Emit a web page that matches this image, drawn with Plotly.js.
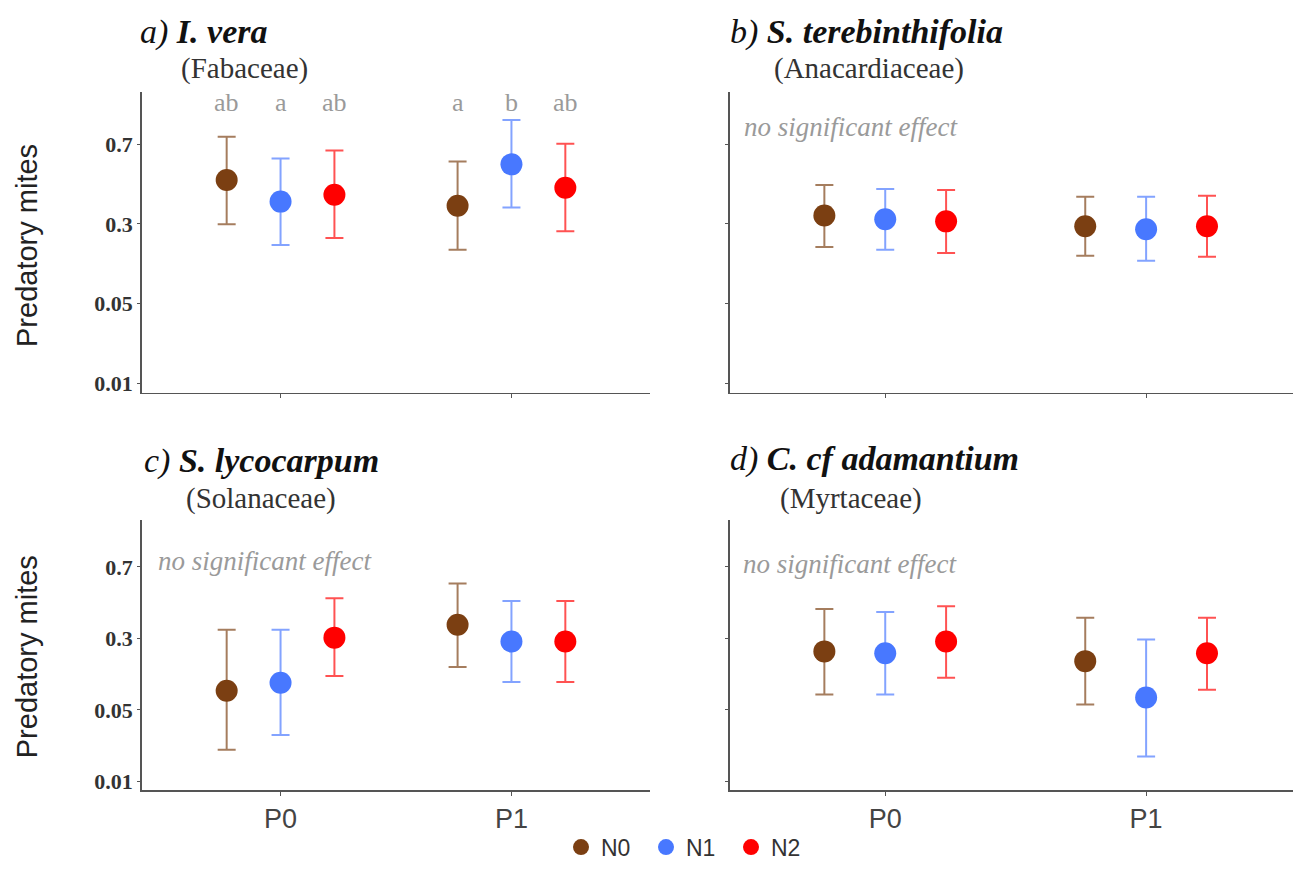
<!DOCTYPE html>
<html><head><meta charset="utf-8">
<script src="https://cdn.plot.ly/plotly-3.0.1.min.js"></script>
<style>html,body{margin:0;padding:0;background:#fff}#chart{width:1293px;height:869px}</style>
</head><body><div id="chart"></div>
<script>
// ---------- data ----------
const groups = ['P0', 'P1'];
const levels = ['N0', 'N1', 'N2'];
const yTickValues = [0.01, 0.05, 0.3, 0.7];
const yTickLabels = ['0.01', '0.05', '0.3', '0.7'];

// rows: N0, N1, N2 ; columns: P0, P1
const iveraMean  = [[0.478, 0.364], [0.380, 0.565], [0.409, 0.440]];
const iveraLower = [[0.297, 0.167], [0.186, 0.357], [0.218, 0.254]];
const iveraUpper = [[0.758, 0.583], [0.602, 0.906], [0.655, 0.704]];
const iveraLetters = [['ab', 'a'], ['a', 'b'], ['ab', 'ab']];

const terebMean  = [[0.328, 0.284], [0.315, 0.266], [0.308, 0.284]];
const terebLower = [[0.178, 0.146], [0.167, 0.131], [0.156, 0.143]];
const terebUpper = [[0.454, 0.400], [0.435, 0.400], [0.430, 0.404]];

const lycoMean  = [[0.0811, 0.353], [0.0988, 0.278], [0.303, 0.278]];
const lycoLower = [[0.0204, 0.1465], [0.0285, 0.101], [0.117, 0.101]];
const lycoUpper = [[0.333, 0.576], [0.333, 0.467], [0.483, 0.467]];

const adamMean  = [[0.217, 0.170], [0.207, 0.0682], [0.278, 0.207]];
const adamLower = [[0.0735, 0.0574], [0.0735, 0.0175], [0.112, 0.0831]];
const adamUpper = [[0.425, 0.383], [0.410, 0.292], [0.440, 0.383]];

const panelLetters = ['a)', 'b)', 'c)', 'd)'];
const speciesNames = ['I. vera', 'S. terebinthifolia', 'S. lycocarpum', 'C. cf adamantium'];
const familyNames = ['(Fabaceae)', '(Anacardiaceae)', '(Solanaceae)', '(Myrtaceae)'];
const noteText = 'no significant effect';
const yTitle = 'Predatory mites';

// ---------- styling ----------
const markerColors = ['#7b3f12', '#4878ff', '#ff0000'];
const barColors = ['rgba(123,63,18,0.68)', 'rgba(72,120,255,0.68)', 'rgba(255,0,0,0.68)'];
const dodge = [-0.7 / 3, 0, 0.7 / 3];
const SERIF = 'Liberation Serif, Times New Roman, serif';
const SANS = 'Liberation Sans, Arial, sans-serif';
const W = 1293, H = 869;

// the y axis places its labelled values at evenly spaced positions;
// map a value onto that scale (log interpolation between labelled values)
function pos(v) {
  const t = yTickValues;
  const k = v < t[1] ? 0 : (v < t[2] ? 1 : 2);
  return k + Math.log(v / t[k]) / Math.log(t[k + 1] / t[k]);
}

const panels = [
  {mean: iveraMean, lo: iveraLower, hi: iveraUpper, xa: 'x', ya: 'y'},
  {mean: terebMean, lo: terebLower, hi: terebUpper, xa: 'x2', ya: 'y2'},
  {mean: lycoMean, lo: lycoLower, hi: lycoUpper, xa: 'x3', ya: 'y3'},
  {mean: adamMean, lo: adamLower, hi: adamUpper, xa: 'x4', ya: 'y4'}
];

const traces = [];
panels.forEach((p, pi) => {
  levels.forEach((lev, i) => {
    const yc = p.mean[i].map(pos);
    traces.push({
      type: 'scatter', mode: 'markers', name: lev,
      legendgroup: lev, showlegend: pi === 0,
      xaxis: p.xa, yaxis: p.ya,
      x: groups.map((g, j) => j + 1 + dodge[i]),
      y: yc,
      marker: {color: markerColors[i], size: 22, line: {width: 0}},
      error_y: {
        type: 'data', symmetric: false,
        array: p.hi[i].map((v, j) => pos(v) - yc[j]),
        arrayminus: p.lo[i].map((v, j) => yc[j] - pos(v)),
        color: barColors[i], thickness: 2, width: 9
      },
      hoverinfo: 'skip'
    });
  });
});

// ---------- layout ----------
const px = v => v / W, py = v => 1 - v / H;
const colL = [px(142), px(650)], colR = [px(730), 1];
const rowT = [py(399), py(94)], rowB = [py(803), py(529)];
const yRange = [-0.12, 3.65];

function xAxis(domain, range, labels, anchor) {
  return {
    domain: domain, range: range, anchor: anchor,
    tickvals: [1, 2], ticktext: groups, showticklabels: labels,
    ticks: 'outside', ticklen: 4, tickwidth: 1, tickcolor: '#555',
    showline: true, linecolor: '#555', linewidth: 1.8,
    showgrid: false, zeroline: false, fixedrange: true,
    tickfont: {family: SANS, size: 27, color: '#444'}
  };
}
function yAxis(domain, labels, anchor) {
  return {
    domain: domain, range: yRange, anchor: anchor,
    tickvals: yTickValues.map(pos), ticktext: yTickLabels, showticklabels: labels,
    ticks: 'outside', ticklen: 3, tickwidth: 1, tickcolor: '#555',
    showline: true, linecolor: '#555', linewidth: 1.8,
    showgrid: false, zeroline: false, fixedrange: true,
    tickfont: {family: SERIF, size: 22, color: '#333', weight: 'bold'}
  };
}

const annotations = [];
const titlePos = [[138, 33], [728, 33], [142, 469], [728, 467]];
const familyPos = [[179, 70], [772, 70], [184, 507], [778, 507]];
panelLetters.forEach((l, i) => {
  annotations.push({
    xref: 'paper', yref: 'paper', x: px(titlePos[i][0]), y: py(titlePos[i][1]),
    xanchor: 'left', yanchor: 'middle', showarrow: false,
    text: '<i>' + l + '</i> <b><i>' + speciesNames[i] + '</i></b>',
    font: {family: SERIF, size: 34, color: '#111'}
  });
  annotations.push({
    xref: 'paper', yref: 'paper', x: px(familyPos[i][0]), y: py(familyPos[i][1]),
    xanchor: 'left', yanchor: 'middle', showarrow: false,
    text: familyNames[i],
    font: {family: SERIF, size: 29, color: '#333'}
  });
});
// "no significant effect" notes in panels b, c, d
[['x2', 'y2', 0.022, 0.885], ['x3', 'y3', 0.028, 0.85], ['x4', 'y4', 0.02, 0.84]].forEach(n => {
  annotations.push({
    xref: n[0] + ' domain', yref: n[1] + ' domain', x: n[2], y: n[3],
    xanchor: 'left', yanchor: 'middle', showarrow: false,
    text: '<i>' + noteText + '</i>',
    font: {family: SERIF, size: 27, color: '#9a9a9a'}
  });
});
// significance letters in panel a
levels.forEach((lev, i) => {
  groups.forEach((g, j) => {
    annotations.push({
      xref: 'x', yref: 'y domain', x: j + 1 + dodge[i], y: 0.967,
      xanchor: 'center', yanchor: 'middle', showarrow: false,
      text: iveraLetters[i][j],
      font: {family: SERIF, size: 26, color: '#9a9a9a'}
    });
  });
});
// y titles
[250, 668].forEach(yc => {
  annotations.push({
    xref: 'paper', yref: 'paper', x: px(27), y: py(yc),
    xanchor: 'center', yanchor: 'middle', showarrow: false, textangle: -90,
    text: yTitle, font: {family: SANS, size: 29, color: '#222'}
  });
});

const layout = {
  width: W, height: H,
  margin: {l: 0, r: 0, t: 0, b: 0},
  paper_bgcolor: '#fff', plot_bgcolor: '#fff',
  showlegend: true,
  legend: {
    orientation: 'h', x: px(561), xanchor: 'left', y: py(861), yanchor: 'middle',
    font: {family: SANS, size: 23, color: '#333'},
    entrywidth: 40, entrywidthmode: 'pixels', bgcolor: 'rgba(0,0,0,0)'
  },
  xaxis: xAxis(colL, [0.4, 2.6], false, 'y'),
  yaxis: yAxis(rowT, true, 'x'),
  xaxis2: xAxis(colR, [0.405, 2.563], false, 'y2'),
  yaxis2: yAxis(rowT, false, 'x2'),
  xaxis3: xAxis(colL, [0.4, 2.6], true, 'y3'),
  yaxis3: yAxis(rowB, true, 'x3'),
  xaxis4: xAxis(colR, [0.405, 2.563], true, 'y4'),
  yaxis4: yAxis(rowB, false, 'x4'),
  annotations: annotations
};

Plotly.newPlot('chart', traces, layout, {displayModeBar: false, staticPlot: true});
</script>
</body></html>
